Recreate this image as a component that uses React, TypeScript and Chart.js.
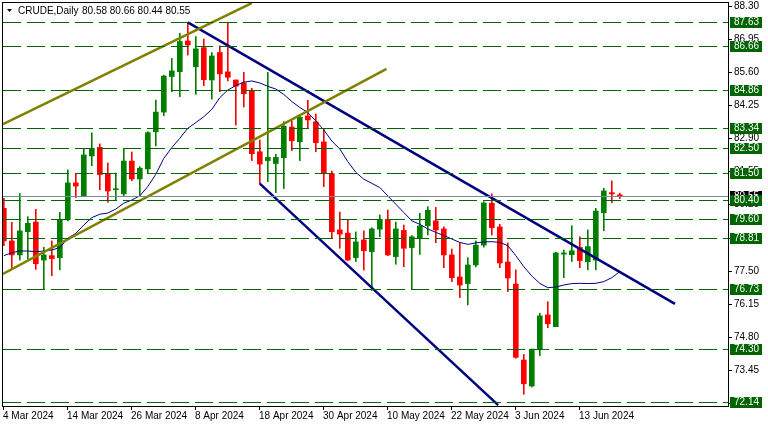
import React, { useEffect, useRef } from 'react';
import { Chart, registerables } from 'chart.js';

Chart.register(...registerables);

// ---- Data ----
const OPEN = [80.04, 78.71, 78.14, 79.09, 79.48, 77.93, 78.11, 78.03, 79.58, 81.08, 80.55, 82.18, 82.53, 81.46, 80.80, 80.63, 81.97, 81.24, 81.65, 83.17, 83.97, 85.42, 85.62, 86.87, 85.82, 86.60, 85.28, 86.40, 85.61, 85.28, 85.16, 84.86, 82.35, 81.99, 81.87, 82.11, 83.36, 82.76, 83.81, 83.57, 82.75, 81.46, 79.16, 79.03, 78.03, 78.75, 78.27, 79.19, 79.59, 78.07, 79.14, 78.44, 78.84, 79.33, 79.53, 79.20, 78.14, 77.24, 76.97, 77.73, 78.54, 80.25, 79.28, 77.85, 76.95, 73.85, 72.79, 74.29, 75.69, 75.21, 78.17, 78.15, 78.45, 77.86, 77.93, 79.86, 80.68, 80.58];
const HIGH = [80.45, 79.47, 80.65, 79.70, 80.00, 78.45, 78.71, 79.88, 81.61, 81.47, 82.49, 83.12, 82.67, 81.89, 81.48, 82.49, 82.34, 81.74, 83.17, 84.46, 85.48, 86.16, 87.19, 87.63, 87.05, 86.95, 86.40, 86.67, 87.63, 85.28, 85.59, 84.94, 82.83, 85.59, 82.25, 83.58, 83.61, 83.85, 84.45, 83.89, 83.29, 81.56, 79.89, 79.58, 79.08, 79.12, 79.25, 79.77, 79.97, 79.48, 79.36, 78.93, 79.84, 80.11, 80.08, 79.29, 78.38, 78.64, 78.03, 78.71, 80.31, 80.63, 79.39, 78.63, 77.53, 74.08, 74.30, 75.76, 76.23, 78.25, 78.34, 79.33, 78.88, 79.16, 80.04, 80.86, 81.16, 80.66];
const LOW = [78.52, 77.59, 77.93, 77.97, 77.55, 76.75, 77.29, 77.53, 79.53, 80.48, 80.52, 81.78, 80.80, 80.29, 80.38, 80.52, 81.17, 80.58, 81.48, 82.59, 83.82, 84.80, 84.60, 86.30, 84.69, 85.05, 84.50, 84.80, 85.24, 83.44, 84.18, 81.99, 81.05, 81.13, 80.68, 80.85, 82.40, 81.99, 83.31, 82.35, 80.93, 78.84, 78.41, 77.91, 77.87, 77.52, 76.69, 78.88, 78.11, 77.76, 77.66, 76.73, 78.16, 78.95, 78.64, 77.62, 77.05, 76.40, 76.10, 77.65, 78.46, 78.95, 77.62, 76.64, 73.92, 72.45, 72.75, 74.03, 75.17, 75.21, 77.21, 77.87, 77.62, 77.53, 77.53, 79.13, 80.27, 80.44];
const CLOSE = [78.71, 78.14, 79.12, 79.43, 77.78, 78.14, 77.99, 79.59, 81.08, 80.95, 82.22, 82.49, 81.42, 80.75, 80.83, 81.97, 81.24, 81.68, 83.13, 83.97, 85.44, 85.65, 86.85, 86.71, 86.55, 85.29, 86.26, 85.53, 85.39, 85.03, 84.72, 82.27, 81.85, 82.12, 82.12, 83.39, 82.80, 83.76, 83.65, 82.72, 81.48, 79.09, 78.99, 77.93, 78.67, 78.31, 79.20, 79.59, 78.14, 79.20, 78.41, 78.88, 79.32, 79.96, 79.16, 78.14, 77.21, 76.91, 77.73, 78.54, 80.26, 79.25, 77.81, 77.20, 73.96, 72.88, 74.29, 75.65, 75.33, 78.22, 78.22, 78.31, 77.91, 78.48, 79.93, 80.75, 80.63, 80.55];
const MA = [78.11, 78.23, 78.30, 78.30, 78.27, 78.30, 78.34, 78.44, 78.82, 79.02, 79.36, 79.66, 79.80, 79.85, 80.01, 80.25, 80.38, 80.55, 80.93, 81.43, 82.08, 82.52, 82.90, 83.31, 83.54, 83.78, 84.08, 84.56, 84.87, 85.05, 85.19, 85.24, 85.16, 85.02, 84.91, 84.69, 84.40, 84.16, 83.95, 83.61, 83.24, 82.79, 82.46, 81.95, 81.51, 81.23, 81.06, 80.89, 80.55, 80.21, 79.87, 79.53, 79.39, 79.20, 79.06, 78.93, 78.79, 78.65, 78.57, 78.63, 78.67, 78.68, 78.65, 78.52, 78.11, 77.66, 77.28, 76.98, 76.80, 76.83, 76.91, 76.97, 76.98, 76.97, 76.98, 77.05, 77.21, 77.46];

const DATE_TICK_INDEX = [0, 8, 16, 24, 32, 40, 48, 56, 64, 72];
const DATE_TICK_LABELS = ['4 Mar 2024', '14 Mar 2024', '26 Mar 2024', '8 Apr 2024', '18 Apr 2024', '30 Apr 2024', '10 May 2024', '22 May 2024', '3 Jun 2024', '13 Jun 2024'];
const PRICE_TICKS = [88.30, 86.95, 85.60, 84.25, 82.90, 81.55, 80.20, 78.85, 77.50, 76.15, 74.80, 73.45, 72.10];
const LEVELS = [87.63, 86.66, 84.86, 83.34, 82.50, 81.50, 80.40, 79.60, 78.81, 76.73, 74.30, 72.14];
const BID = 80.55;
const SYMBOL = 'CRUDE,Daily';
const OHLC_TEXT = '80.58 80.66 80.44 80.55';

// trend lines: [x-index, price] pairs
const CHANNEL_UPPER = [[-0.1, 83.48], [31.0, 88.42]];
const CHANNEL_LOWER = [[-0.1, 77.36], [47.84, 85.73]];
const DOWN_UPPER = [[23, 87.63], [83.9, 76.14]];
const DOWN_LOWER = [[32, 81.05], [61.8, 72.01]];

const X_MIN = -0.1;
const X_MAX = 90.525;
const Y_MIN = 71.973;
const Y_MAX = 88.463;

const UP = '#008000';
const DOWN = '#ff0000';
const LEVEL_COLOR = '#006400';
const FONT = '10px "Liberation Sans", Arial, sans-serif';

const idx = OPEN.map((_, i) => i);
const candleColors = idx.map((i) => (CLOSE[i] >= OPEN[i] ? UP : DOWN));
const toPts = (arr: number[][]) => arr.map(([x, y]) => ({ x, y }));

const overlayPlugin = {
  id: 'mt4overlay',
  afterDatasetsDraw(chart: any) {
    const { ctx, chartArea } = chart;
    const xs = chart.scales.x;
    const ys = chart.scales.y;
    ctx.save();
    // level lines
    ctx.beginPath();
    ctx.rect(chartArea.left, chartArea.top, chartArea.right - chartArea.left, chartArea.bottom - chartArea.top);
    ctx.clip();
    ctx.strokeStyle = LEVEL_COLOR;
    ctx.lineWidth = 1;
    ctx.setLineDash([18, 6]);
    LEVELS.forEach((lv) => {
      const y = Math.round(ys.getPixelForValue(lv)) + 0.5;
      ctx.beginPath();
      ctx.moveTo(chartArea.left, y);
      ctx.lineTo(chartArea.right, y);
      ctx.stroke();
    });
    ctx.setLineDash([]);
    ctx.strokeStyle = '#778899';
    const by = Math.round(ys.getPixelForValue(BID)) + 0.5;
    ctx.beginPath();
    ctx.moveTo(chartArea.left, by);
    ctx.lineTo(chartArea.right, by);
    ctx.stroke();
    ctx.restore();
  },
  afterDraw(chart: any) {
    const { ctx, chartArea } = chart;
    const xs = chart.scales.x;
    const ys = chart.scales.y;
    const L = Math.round(chartArea.left) - 1;
    const R = Math.round(chartArea.right);
    const T = Math.round(chartArea.top);
    const B = Math.round(chartArea.bottom);
    ctx.save();
    ctx.fillStyle = '#000';
    ctx.fillRect(L, T, R - L + 1, 1);
    ctx.fillRect(L, B, R - L + 1, 1);
    ctx.fillRect(L, T, 1, B - T + 1);
    ctx.fillRect(R, T, 1, B - T + 1);

    ctx.font = FONT;
    ctx.textBaseline = 'middle';
    ctx.textAlign = 'left';
    // price ticks
    PRICE_TICKS.forEach((t) => {
      const y = Math.round(ys.getPixelForValue(t));
      ctx.fillStyle = '#000';
      ctx.fillRect(R, y, 4, 1);
      ctx.fillText(t.toFixed(2), R + 6, y + 0.5);
    });
    // date ticks
    DATE_TICK_INDEX.forEach((d, k) => {
      const x = Math.round(xs.getPixelForValue(d)) - 1;
      ctx.fillRect(x, B, 1, 4);
      ctx.fillText(DATE_TICK_LABELS[k], x, B + 10);
    });
    // bid box
    const byy = Math.round(ys.getPixelForValue(BID));
    ctx.fillStyle = '#000';
    ctx.fillRect(R + 2, byy - 5, 32, 11);
    ctx.fillStyle = '#fff';
    ctx.fillText(BID.toFixed(2), R + 6, byy + 0.5);
    // level boxes
    LEVELS.forEach((lv) => {
      const y = Math.round(ys.getPixelForValue(lv));
      ctx.fillStyle = LEVEL_COLOR;
      ctx.fillRect(R + 2, y - 5, 32, 11);
      ctx.fillStyle = '#fff';
      ctx.fillText(lv.toFixed(2), R + 6, y + 0.5);
    });
    // title
    ctx.fillStyle = '#000';
    ctx.beginPath();
    ctx.moveTo(7, 9);
    ctx.lineTo(12, 9);
    ctx.lineTo(9.5, 12);
    ctx.closePath();
    ctx.fill();
    ctx.fillText(SYMBOL, 18, 11);
    ctx.fillText(OHLC_TEXT, 82, 11);
    ctx.restore();
  },
};

export default function App() {
  const ref = useRef<HTMLCanvasElement | null>(null);
  useEffect(() => {
    document.body.style.margin = '0';
    document.body.style.background = '#fff';
    const canvas = ref.current!;
    const lineDs = (data: number[][], color: string, width: number) => ({
      type: 'line' as const,
      data: toPts(data),
      borderColor: color,
      borderWidth: width,
      pointRadius: 0,
      tension: 0,
      order: 0,
    });
    const chart = new Chart(canvas, {
      type: 'bar',
      data: {
        datasets: [
          lineDs(CHANNEL_UPPER, '#808000', 2.5),
          lineDs(CHANNEL_LOWER, '#808000', 2.5),
          lineDs(DOWN_UPPER, '#000080', 2.5),
          lineDs(DOWN_LOWER, '#000080', 2.5),
          {
            type: 'line' as const,
            data: MA.map((v, i) => ({ x: i, y: v })),
            borderColor: '#000080',
            borderWidth: 1,
            pointRadius: 0,
            tension: 0,
            order: 1,
          },
          {
            type: 'bar' as const,
            data: idx.map((i) => ({ x: i, y: [OPEN[i], CLOSE[i]] })),
            backgroundColor: candleColors,
            borderWidth: 0,
            barThickness: 5,
            grouped: false,
            minBarLength: 1,
            order: 2,
          },
          {
            type: 'bar' as const,
            data: idx.map((i) => ({ x: i, y: [LOW[i], HIGH[i]] })),
            backgroundColor: candleColors,
            borderWidth: 0,
            barThickness: 1,
            grouped: false,
            order: 3,
          },
        ] as any,
      },
      options: {
        animation: false,
        responsive: false,
        maintainAspectRatio: false,
        devicePixelRatio: 1,
        layout: { padding: { left: 3, top: 2, right: 40, bottom: 21 } },
        plugins: { legend: { display: false }, tooltip: { enabled: false } },
        scales: {
          x: { type: 'linear', min: X_MIN, max: X_MAX, display: false, offset: false },
          y: { type: 'linear', min: Y_MIN, max: Y_MAX, display: false },
        },
      } as any,
      plugins: [overlayPlugin],
    });
    return () => chart.destroy();
  }, []);
  return (
    <canvas ref={ref} width={768} height={427} style={{ display: 'block', width: 768, height: 427 }} />
  );
}
